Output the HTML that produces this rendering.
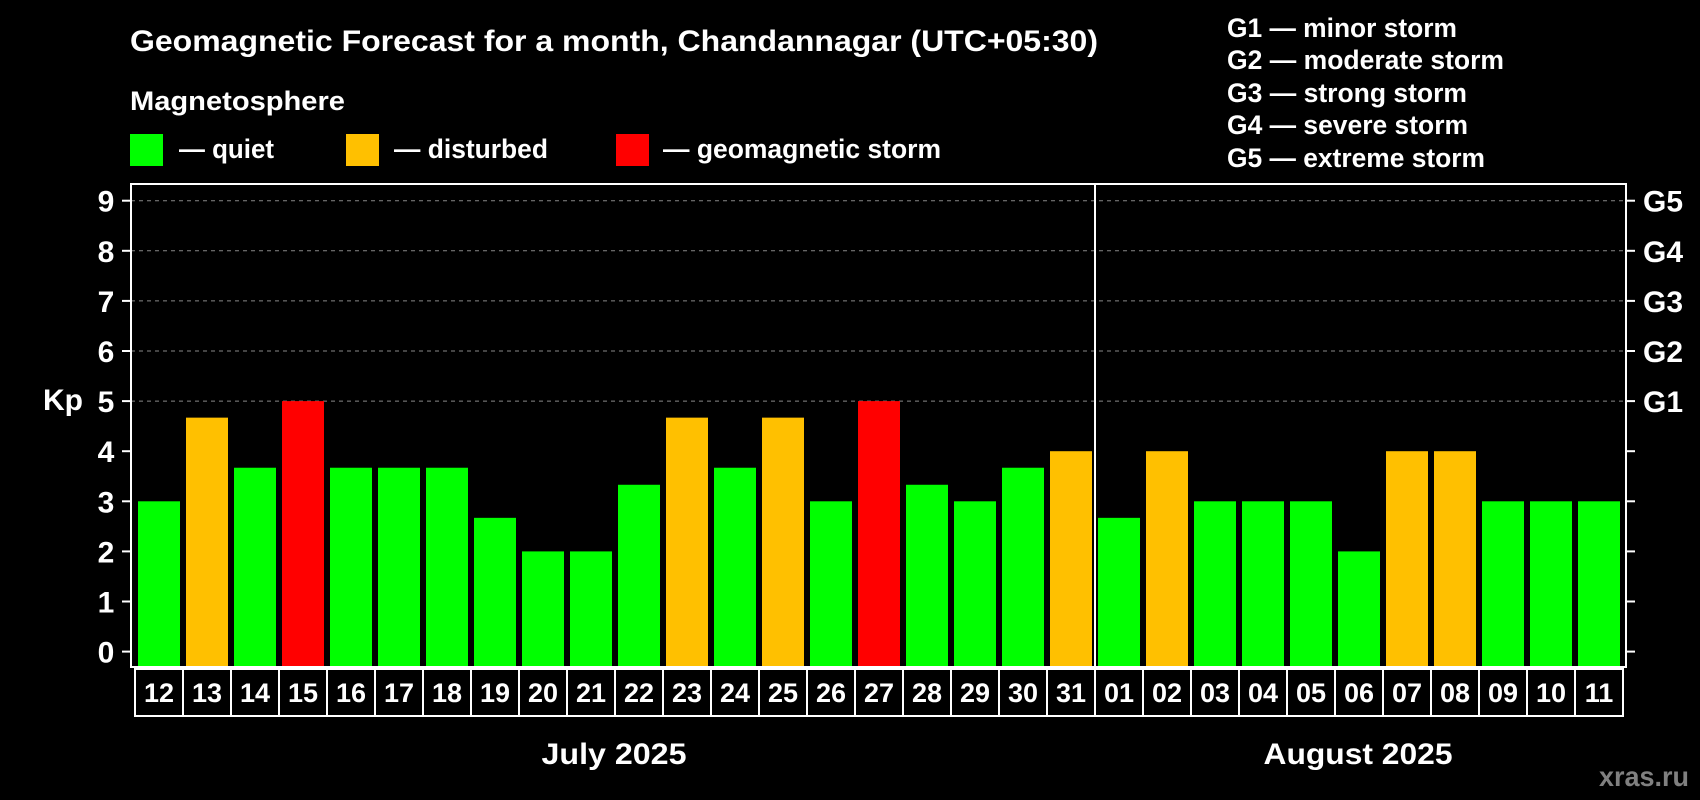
<!DOCTYPE html>
<html><head><meta charset="utf-8"><style>
body{margin:0;background:#000;width:1700px;height:800px;overflow:hidden}
svg{display:block;font-family:"Liberation Sans",Arial,sans-serif;font-weight:bold}
</style></head><body>
<svg id="c" width="1700" height="800" viewBox="0 0 1700 800">
<rect width="1700" height="800" fill="#000"/>
<text x="130" y="51" fill="#fff" font-size="30" textLength="968" lengthAdjust="spacingAndGlyphs">Geomagnetic Forecast for a month, Chandannagar (UTC+05:30)</text>
<text x="130" y="110" fill="#fff" font-size="27" textLength="215" lengthAdjust="spacingAndGlyphs">Magnetosphere</text>
<g><rect x="130" y="134" width="33" height="32" fill="#00ff00"/><text x="179" y="158" fill="#fff" font-size="27" textLength="95" lengthAdjust="spacingAndGlyphs">— quiet</text></g>
<g><rect x="346" y="134" width="33" height="32" fill="#ffc000"/><text x="394" y="158" fill="#fff" font-size="27" textLength="154" lengthAdjust="spacingAndGlyphs">— disturbed</text></g>
<g><rect x="616" y="134" width="33" height="32" fill="#ff0000"/><text x="663" y="158" fill="#fff" font-size="27" textLength="278" lengthAdjust="spacingAndGlyphs">— geomagnetic storm</text></g>
<g fill="#fff" font-size="27">
<text x="1227" y="37" textLength="230" lengthAdjust="spacingAndGlyphs">G1 — minor storm</text>
<text x="1227" y="69" textLength="277" lengthAdjust="spacingAndGlyphs">G2 — moderate storm</text>
<text x="1227" y="102" textLength="240" lengthAdjust="spacingAndGlyphs">G3 — strong storm</text>
<text x="1227" y="134" textLength="241" lengthAdjust="spacingAndGlyphs">G4 — severe storm</text>
<text x="1227" y="167" textLength="258" lengthAdjust="spacingAndGlyphs">G5 — extreme storm</text>
</g>
<text x="63" y="410" fill="#fff" font-size="30" text-anchor="middle">Kp</text>
<g id="grid"></g><g id="bars"></g><g id="axes"></g>
<text x="614" y="764" fill="#fff" font-size="30" text-anchor="middle" textLength="145" lengthAdjust="spacingAndGlyphs">July 2025</text>
<text x="1358" y="764" fill="#fff" font-size="30" text-anchor="middle" textLength="189" lengthAdjust="spacingAndGlyphs">August 2025</text>
<text x="1599" y="786" fill="#808080" font-size="28" textLength="90" lengthAdjust="spacingAndGlyphs">xras.ru</text>
</svg>
<script>
const days=["12","13","14","15","16","17","18","19","20","21","22","23","24","25","26","27","28","29","30","31","01","02","03","04","05","06","07","08","09","10","11"];
const kp=[3,4.67,3.67,5,3.67,3.67,3.67,2.67,2,2,3.33,4.67,3.67,4.67,3,5,3.33,3,3.67,4,2.67,4,3,3,3,2,4,4,3,3,3];
const yTicks=["0","1","2","3","4","5","6","7","8","9"];
const gLabels=["G1","G2","G3","G4","G5"];
const NS="http://www.w3.org/2000/svg";
const y0=651.6,unit=50.1,x0=138,pitch=48,bw=42,fTop=184,fBot=667;
const ys=v=>y0-v*unit, xs=i=>x0+i*pitch;
function mk(t,a,p){const e=document.createElementNS(NS,t);for(const k in a)e.setAttribute(k,a[k]);p.appendChild(e);return e;}
const grid=document.getElementById('grid'),bars=document.getElementById('bars'),axes=document.getElementById('axes');
yTicks.forEach((t,i)=>{const v=+t;
 if(v>=5){const l=mk('line',{x1:131,x2:1626,y1:ys(v),y2:ys(v),stroke:'#888','stroke-dasharray':'4,4','stroke-width':1},grid);
 
 }
 const tk=mk('line',{x1:122,x2:131,y1:ys(v),y2:ys(v),stroke:'#fff','stroke-width':2},axes);
 
 
 const tr=mk('line',{x1:1626,x2:1635,y1:ys(v),y2:ys(v),stroke:'#fff','stroke-width':2},axes);
 
 
 const tx=mk('text',{x:106,y:ys(v)+11,fill:'#fff','font-size':30,'text-anchor':'middle'},axes);tx.textContent=t;
 
 
});
gLabels.forEach((g,i)=>{const tx=mk('text',{x:1643,y:ys(5+i)+11,fill:'#fff','font-size':30},axes);tx.textContent=g;
 
 });
kp.forEach((v,i)=>{const c=v>=5?'#ff0000':(v>=4?'#ffc000':'#00ff00');
 const r=mk('rect',{x:xs(i),y:ys(v),width:bw,height:fBot-ys(v),fill:c},bars);
 
 
 const b=mk('rect',{x:xs(i)-3,y:669,width:pitch,height:47,fill:'none',stroke:'#fff','stroke-width':2},axes);
 
 
 const t=mk('text',{x:xs(i)+bw/2,y:702,fill:'#fff','font-size':27,'text-anchor':'middle'},axes);t.textContent=days[i];
 
 
});
const f=mk('rect',{x:131,y:fTop,width:1495,height:fBot-fTop,fill:'none',stroke:'#fff','stroke-width':2},axes);


const sep=mk('line',{x1:xs(20)-3,x2:xs(20)-3,y1:fTop,y2:fBot,stroke:'#fff','stroke-width':2},axes);


</script>
</body></html>
